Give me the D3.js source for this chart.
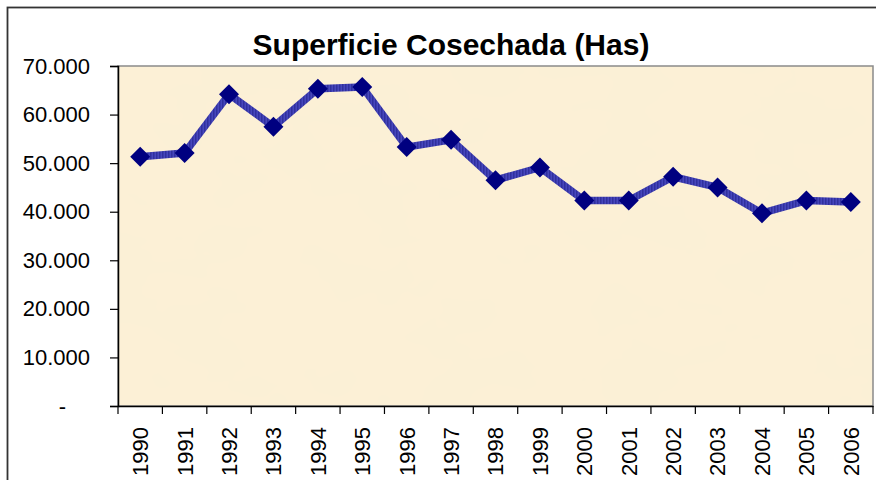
<!DOCTYPE html>
<html>
<head>
<meta charset="utf-8">
<script src="https://cdn.jsdelivr.net/npm/d3@7"></script>
<style>
  html, body { margin: 0; padding: 0; background: #ffffff; }
  svg { display: block; font-family: Arial, "Liberation Sans", sans-serif; }
</style>
</head>
<body>
<div id="chart"></div>
<script>
// ------------------------------------------
// datos
// ------------------------------------------
const TITLE = "Superficie Cosechada (Has)";
const years = ["1990", "1991", "1992", "1993", "1994", "1995", "1996", "1997", "1998",
  "1999", "2000", "2001", "2002", "2003", "2004", "2005", "2006"];
const hectares = [51300, 52100, 64200, 57500, 65300, 65700, 53300, 54800, 46500,
  49100, 42300, 42300, 47200, 45000, 39700, 42300, 42000];
const yTicks = [0, 10000, 20000, 30000, 40000, 50000, 60000, 70000];

const COLORS = {
  frame: '#333333',
  plotBg: '#fcf0d6',
  plotBorder: '#8a8a8a',
  axis: '#000000',
  line: '#3d3db2',
  marker: '#000080',
  text: '#000000'
};

const width = 876, height = 480;
const margin = { top: 66, right: 3, bottom: 74, left: 118 };

const svg = d3.select("#chart").append("svg")
  .attr("width", width)
  .attr("height", height);

// textura del fondo (papel)
const defs = svg.append("defs");
const f = defs.append("filter").attr("id", "paper")
  .attr("x", 0).attr("y", 0).attr("width", 1).attr("height", 1);
f.append("feTurbulence").attr("type", "fractalNoise")
  .attr("baseFrequency", "0.012 0.02").attr("numOctaves", 3).attr("seed", 4).attr("result", "noise");
f.append("feColorMatrix").attr("in", "noise").attr("type", "matrix")
  .attr("values", "0 0 0 0 0.93  0 0 0 0 0.86  0 0 0 0 0.70  0 0 0 0.22 -0.06")
  .attr("result", "tint");
f.append("feComposite").attr("in", "tint").attr("in2", "SourceGraphic").attr("operator", "over");

// trama de la línea
const pat = defs.append("pattern").attr("id", "hatch")
  .attr("patternUnits", "userSpaceOnUse").attr("width", 3).attr("height", 3);
pat.append("rect").attr("width", 3).attr("height", 3).attr("fill", "#4646bc");
pat.append("rect").attr("width", 1.5).attr("height", 3).attr("fill", "#30309e");

// marco exterior del gráfico
svg.append("rect")
  .attr("x", 7.5).attr("y", 7.5)
  .attr("width", width + 20).attr("height", height + 20)
  .attr("fill", "none")
  .attr("stroke", COLORS.frame)
  .attr("stroke-width", 1.8);

const x = d3.scaleBand()
  .domain(years)
  .range([margin.left, width - margin.right])
  .padding(0);

const y = d3.scaleLinear()
  .domain([0, 70000])
  .range([height - margin.bottom, margin.top]);

const x0 = margin.left, x1 = width - margin.right;
const y0 = y(0), y1 = y(70000);

// área de trazado
svg.append("rect")
  .attr("x", x0).attr("y", y1)
  .attr("width", x1 - x0).attr("height", y0 - y1)
  .attr("fill", COLORS.plotBg)
  .attr("filter", "url(#paper)");
svg.append("rect")
  .attr("x", x0).attr("y", y1)
  .attr("width", x1 - x0).attr("height", y0 - y1)
  .attr("fill", "none")
  .attr("stroke", COLORS.plotBorder)
  .attr("stroke-width", 1.5);

// título
svg.append("text")
  .attr("x", 451)
  .attr("y", 55)
  .attr("text-anchor", "middle")
  .attr("font-size", "30px")
  .attr("font-weight", "bold")
  .attr("fill", COLORS.text)
  .text(TITLE);

// eje Y
const fmt = d => d === 0 ? "-" : d3.format(",")(d).replace(/,/g, ".");
const yAxis = svg.append("g")
  .attr("transform", `translate(${x0},0)`)
  .call(d3.axisLeft(y).tickValues(yTicks).tickSize(8).tickPadding(20).tickFormat(fmt));
yAxis.select(".domain").attr("stroke", COLORS.axis).attr("stroke-width", 1.5);
yAxis.selectAll(".tick line").attr("stroke", COLORS.axis).attr("stroke-width", 1.2);
yAxis.selectAll(".tick text")
  .attr("font-size", "22px")
  .attr("fill", COLORS.text)
  .attr("font-family", "Arial, 'Liberation Sans', sans-serif");
yAxis.selectAll(".tick text").filter(d => d === 0).attr("dx", "-24px");

// eje X: etiquetas en el centro de cada categoría, marcas en los bordes
const xAxis = svg.append("g")
  .attr("transform", `translate(0,${y0})`)
  .call(d3.axisBottom(x).tickSize(0).tickPadding(0));
xAxis.select(".domain").attr("stroke", COLORS.axis).attr("stroke-width", 1.5);
xAxis.selectAll(".tick text")
  .attr("font-size", "22px")
  .attr("fill", COLORS.text)
  .attr("font-family", "Arial, 'Liberation Sans', sans-serif")
  .attr("text-anchor", "end")
  .attr("transform", "rotate(-90)")
  .attr("x", -21)
  .attr("y", 0)
  .attr("dy", "0.36em");

const bounds = years.map(d => x(d)).concat([x(years[years.length - 1]) + x.step()]);
svg.append("g").selectAll("line")
  .data(bounds)
  .join("line")
  .attr("x1", d => d).attr("x2", d => d)
  .attr("y1", y0).attr("y2", y0 + 8)
  .attr("stroke", COLORS.axis)
  .attr("stroke-width", 1.2);

// serie
const data = years.map((yr, i) => ({ year: yr, value: hectares[i] }));
const cx = d => x(d.year) + x.bandwidth() / 2;

svg.append("path")
  .datum(data)
  .attr("fill", "none")
  .attr("stroke", "url(#hatch)")
  .attr("stroke-width", 7.5)
  .attr("stroke-linejoin", "round")
  .attr("d", d3.line().x(cx).y(d => y(d.value)));

svg.append("g").selectAll("path")
  .data(data)
  .join("path")
  .attr("transform", d => `translate(${cx(d)},${y(d.value)}) rotate(45)`)
  .attr("d", d3.symbol().type(d3.symbolSquare).size(200))
  .attr("fill", COLORS.marker);
</script>
</body>
</html>
